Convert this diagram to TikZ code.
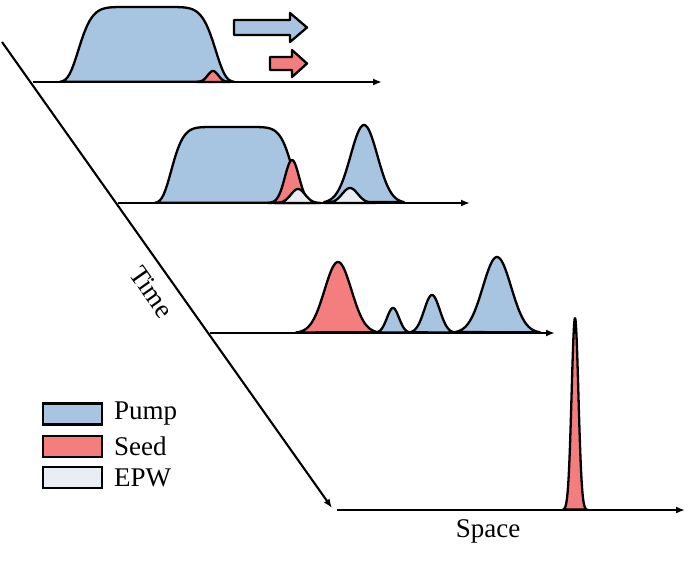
\documentclass[tikz,border=0pt]{standalone}
\usepackage{fontspec}
\setmainfont{Liberation Serif}
\usepackage{tikz}
\usetikzlibrary{arrows.meta}
\definecolor{pumpblue}{HTML}{A7C4E0}
\definecolor{seedred}{HTML}{F47E7E}
\definecolor{epwgray}{HTML}{E8EEF3}

% Gaussian pulse: style, base, centre, height, sigma, from, to
\newcommand{\gpulse}[7]{%
  \draw[#1] plot[domain=#6:#7, samples=70] (\x,{#2-#4*exp(-((\x-#3)/#5)^2)}) -- cycle;}
% flat-top pulse: style, base, centre, height, half width, from, to
\newcommand{\fpulse}[7]{%
  \draw[#1] plot[domain=#6:#7, samples=90] (\x,{#2-#4*exp(-(abs(\x-#3)/#5)^8)}) -- cycle;}

\begin{document}
\begin{tikzpicture}[x=1pt, y=-1pt,
    pulse/.style={line width=2.3pt, line join=round},
    pump/.style={pulse, fill=pumpblue},
    seed/.style={pulse, fill=seedred},
    epw/.style={pulse, fill=epwgray},
    axis/.style={line width=2.1pt, -{Latex[length=9pt,width=7pt]}},
    legbox/.style={draw, line width=2.3pt, minimum width=59pt, minimum height=21pt, inner sep=0pt},
    lab/.style={font=\fontsize{27}{30}\selectfont, inner sep=1pt}]
  \useasboundingbox (0,0) rectangle (692,563);

  % frame 1
  \fpulse{pump}{82}{147}{75}{70}{60}{234}
  \gpulse{seed}{82}{213}{11}{7.5}{196}{230}
  \draw[pump] (234,20) -- (290,20) -- (290,13) -- (307,27.5) -- (290,42) -- (290,35) -- (234,35) -- cycle;
  \draw[seed] (270,57) -- (292,57) -- (292,50) -- (307,63.5) -- (292,77) -- (292,70) -- (270,70) -- cycle;

  % frame 2
  \fpulse{pump}{203}{232}{76}{62}{155}{309}
  \gpulse{pump}{203}{364}{78}{19}{324}{404}
  \gpulse{seed}{203}{292}{43}{10}{268}{316}
  \gpulse{epw}{203}{298}{14}{10}{275}{321}
  \gpulse{epw}{203}{350}{15}{11}{324}{376}

  % frame 3
  \gpulse{seed}{333}{338}{71}{19}{296}{378}
  \gpulse{pump}{333}{393}{25}{8.5}{376}{410}
  \gpulse{pump}{333}{432}{38}{11}{410}{455}
  \gpulse{pump}{333}{497}{76}{20}{455}{540}

  % frame 4
  \gpulse{seed}{510}{575}{192}{4.8}{563}{587}

  % axes
  \coordinate (a1s) at (33,82);  \coordinate (a1e) at (382,82);
  \coordinate (a2s) at (118,203); \coordinate (a2e) at (470,203);
  \coordinate (a3s) at (210,333); \coordinate (a3e) at (555,333);
  \coordinate (a4s) at (337,510); \coordinate (a4e) at (685,510);
  \draw[axis] (a1s) -- (a1e);
  \draw[axis] (a2s) -- (a2e);
  \draw[axis] (a3s) -- (a3e);
  \draw[axis] (a4s) -- (a4e);

  % time axis
  \coordinate (t0) at (2,42);
  \coordinate (t1) at (332,508);
  \draw[axis] (t0) -- (t1);
  \node[lab, rotate=-55] (time) at (152,292) {Time};
  \node[lab] (space) at (488,531) {Space};

  % legend
  \node[legbox, fill=pumpblue] (pumpkey) at (72.5,414) {};
  \node[legbox, fill=seedred] (seedkey) at (72.5,446.5) {};
  \node[legbox, fill=epwgray] (epwkey) at (72.5,477.5) {};
  \node[lab, anchor=west] (pumplab) at (113,414) {Pump};
  \node[lab, anchor=west] (seedlab) at (113,446.5) {Seed};
  \node[lab, anchor=west] (epwlab) at (113,477.5) {EPW};
\end{tikzpicture}
\end{document}
